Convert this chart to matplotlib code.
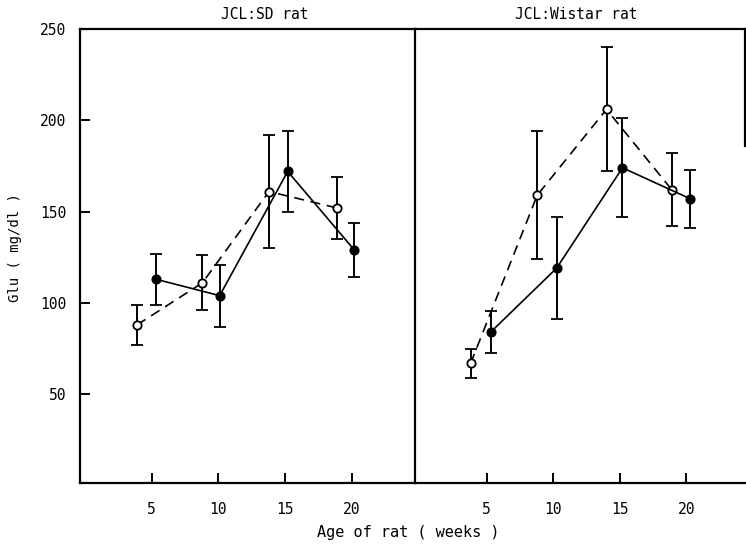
import matplotlib
matplotlib.use("Agg")
import matplotlib.pyplot as plt

plt.rcParams["font.family"] = ["DejaVu Sans Mono"]

# blood glucose (mg/dl) by age (weeks), mean and SD
panel_titles = ["JCL:SD rat", "JCL:Wistar rat"]

sd_open_age = [3.9, 8.8, 13.8, 18.9]
sd_open_glu = [88, 111, 161, 152]
sd_open_sd = [11, 15, 31, 17]
sd_filled_age = [5.3, 10.1, 15.2, 20.2]
sd_filled_glu = [113, 104, 172, 129]
sd_filled_sd = [14, 17, 22, 15]

wi_open_age = [3.8, 8.8, 14.0, 18.9]
wi_open_glu = [67, 159, 206, 162]
wi_open_sd = [8, 35, 34, 20]
wi_filled_age = [5.3, 10.25, 15.2, 20.3]
wi_filled_glu = [84, 119, 174, 157]
wi_filled_sd = [11.5, 28, 27, 16]

x_ticks = [5, 10, 15, 20]
y_ticks = [50, 100, 150, 200, 250]

W, H = 746, 550
fig = plt.figure(figsize=(W / 100, H / 100), dpi=100)
bottom = (H - 483) / H
height = 454 / H
ax_l = fig.add_axes([80 / W, bottom, 335 / W, height])
ax_r = fig.add_axes([415 / W, bottom, 330 / W, height])
ax_r.patch.set_visible(False)


def draw_series(ax, x, y, err, filled, dashed):
    ax.errorbar(
        x, y, yerr=err,
        fmt="o", ms=6,
        mfc="black" if filled else "white", mec="black", mew=1.3,
        ecolor="black", elinewidth=1.4, capsize=4.5, capthick=1.4,
        linestyle=(0, (6, 4)) if dashed else "-",
        color="black", lw=1.2, zorder=3,
    )


draw_series(ax_l, sd_open_age, sd_open_glu, sd_open_sd, False, True)
draw_series(ax_l, sd_filled_age, sd_filled_glu, sd_filled_sd, True, False)
draw_series(ax_r, wi_open_age, wi_open_glu, wi_open_sd, False, True)
draw_series(ax_r, wi_filled_age, wi_filled_glu, wi_filled_sd, True, False)

for ax, title, xlim in zip([ax_l, ax_r], panel_titles, [(-0.38, 24.75), (-0.38, 24.4)]):
    ax.set_xlim(*xlim)
    ax.set_ylim(1.4, 250)
    ax.set_xticks(x_ticks)
    ax.set_xticklabels([str(t) for t in x_ticks], fontsize=10.5)
    ax.tick_params(axis="x", direction="in", length=7, width=1.4, pad=14)
    for s in ax.spines.values():
        s.set_linewidth(1.6)

ax_l.set_yticks(y_ticks)
ax_l.set_yticklabels([str(t) for t in y_ticks], fontsize=10.5)
ax_l.tick_params(axis="y", direction="in", length=7, width=1.4, pad=10)
ax_r.set_yticks([])
ax_r.spines["left"].set_visible(False)
ax_r.spines["right"].set_bounds(186, 250)

ax_l.text(0.552, 1.031, panel_titles[0], transform=ax_l.transAxes,
          ha="center", va="center", fontsize=10.5)
ax_r.text(0.49, 1.031, panel_titles[1], transform=ax_r.transAxes,
          ha="center", va="center", fontsize=10.5)

fig.text(15 / W, 1 - 248 / H, "Glu ( mg/dl )", rotation=90,
         ha="center", va="center", fontsize=10)
fig.text(408 / W, 1 - 532 / H, "Age of rat ( weeks )",
         ha="center", va="center", fontsize=11)

fig.savefig("out.png", dpi=100)
